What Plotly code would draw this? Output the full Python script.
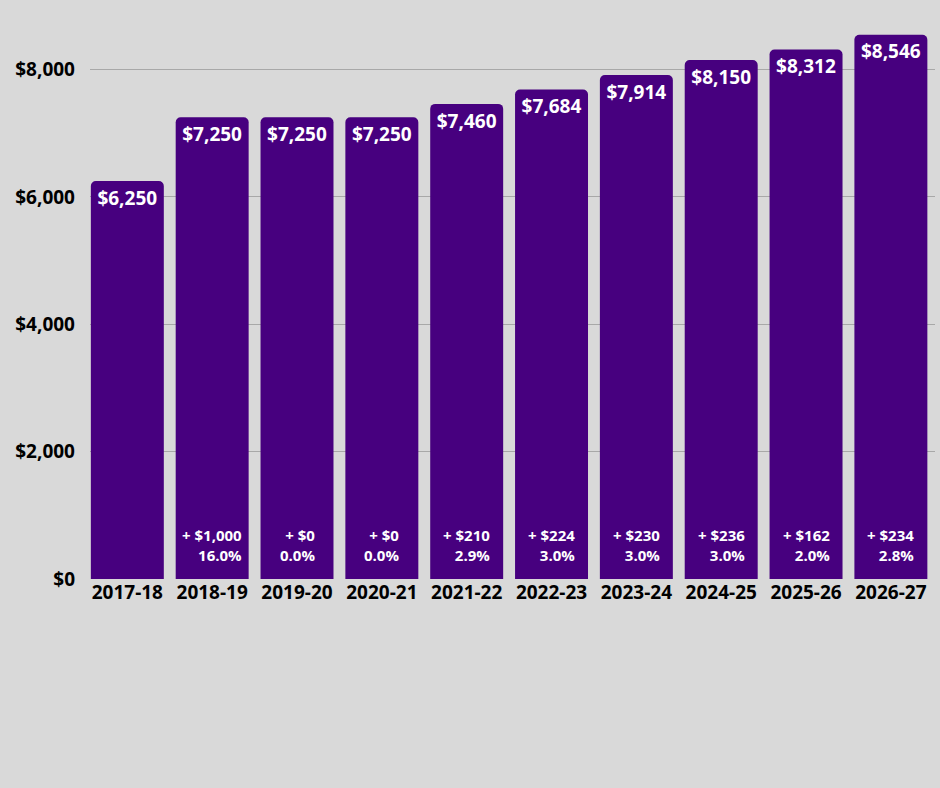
import plotly.graph_objects as go

years = ["2017-18", "2018-19", "2019-20", "2020-21", "2021-22",
         "2022-23", "2023-24", "2024-25", "2025-26", "2026-27"]
amounts = [6250, 7250, 7250, 7250, 7460, 7684, 7914, 8150, 8312, 8546]
tick_vals = [0, 2000, 4000, 6000, 8000]
tick_text = ["$0", "$2,000", "$4,000", "$6,000", "$8,000"]

purple = "#47007f"
bg = "#d9d9d9"

fig = go.Figure()
fig.add_trace(go.Bar(
    x=years, y=amounts,
    marker=dict(color=purple, cornerradius=5, line=dict(width=0)),
    text=[f"${v:,}" for v in amounts],
    textposition="inside", insidetextanchor="end",
    textfont=dict(family="Open Sans", size=19, color="white", weight="bold"),
    textangle=0,
    hoverinfo="skip",
))

# change vs. previous year, shown at the bottom of each bar
for i in range(1, len(amounts)):
    diff = amounts[i] - amounts[i - 1]
    pct = diff / amounts[i - 1] * 100
    fig.add_annotation(
        x=years[i], y=0, xref="x", yref="y",
        text=f"+ ${diff:,}<br>{pct:.1f}%",
        showarrow=False, align="right",
        yanchor="bottom", yshift=12,
        font=dict(family="Open Sans", size=15, color="white", weight="bold"),
    )

fig.update_layout(
    width=940, height=788,
    margin=dict(l=90, r=5, t=30, b=209),
    paper_bgcolor=bg, plot_bgcolor=bg,
    bargap=0.14, showlegend=False,
    font=dict(family="Open Sans", color="black"),
)
fig.update_xaxes(
    range=[-0.44, 9.52], showgrid=False, zeroline=False, showline=False,
    ticks="", tickfont=dict(family="Open Sans", size=19, weight="bold"),
)
fig.update_yaxes(
    range=[0, 8620], tickvals=tick_vals, ticktext=tick_text,
    showgrid=True, gridcolor="#a8a8a8", gridwidth=1,
    zeroline=False, showline=False, ticks="",
    ticklabelstandoff=14,
    tickfont=dict(family="Open Sans", size=19, weight="bold"),
)

fig.write_html("out.html", config={"displayModeBar": False},
               post_script="document.body.style.margin='0';")
